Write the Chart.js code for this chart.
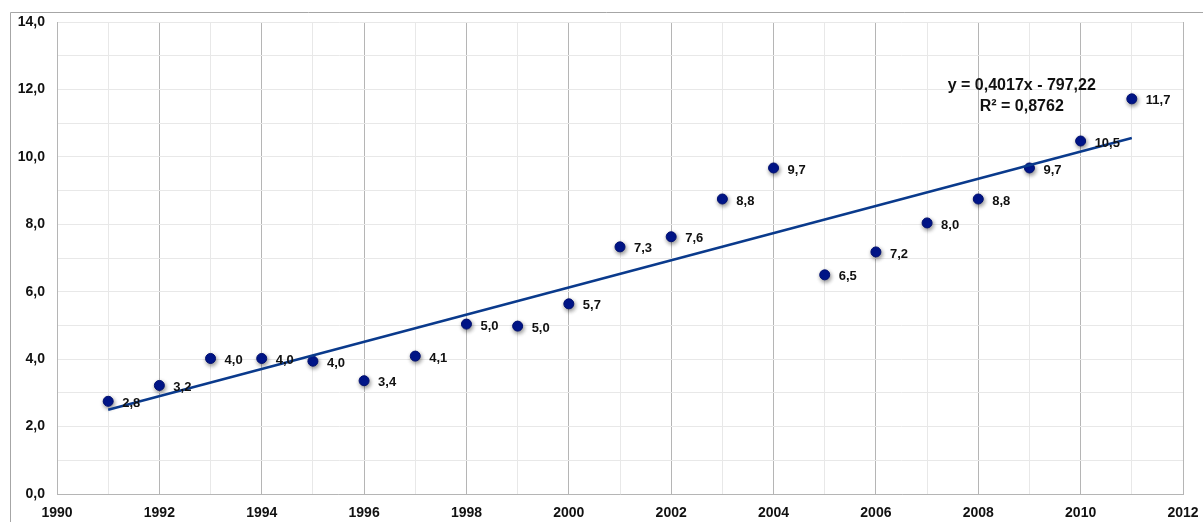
<!DOCTYPE html>
<html>
<head>
<meta charset="utf-8">
<script src="https://cdn.jsdelivr.net/npm/chart.js@4"></script>
<style>
html,body{margin:0;padding:0;background:#fff;}
#wrap{width:1203px;height:522px;position:relative;}
</style>
</head>
<body>
<div id="wrap"><canvas id="c" width="1203" height="522"></canvas></div>
<script>
const years = [1991,1992,1993,1994,1995,1996,1997,1998,1999,2000,2001,2002,2003,2004,2005,2006,2007,2008,2009,2010,2011];
const values = [2.75,3.22,4.02,4.02,3.94,3.36,4.09,5.04,4.98,5.64,7.33,7.63,8.75,9.67,6.5,7.18,8.04,8.75,9.67,10.47,11.72];
const valueLabels = ["2,8","3,2","4,0","4,0","4,0","3,4","4,1","5,0","5,0","5,7","7,3","7,6","8,8","9,7","6,5","7,2","8,0","8,8","9,7","10,5","11,7"];
const trendX = [1991, 2011];
const trendY = [2.5, 10.56];
const equationLines = ["y = 0,4017x - 797,22", "R² = 0,8762"];
const xTickLabels = ["1990","1992","1994","1996","1998","2000","2002","2004","2006","2008","2010","2012"];
const yTickLabels = ["0,0","2,0","4,0","6,0","8,0","10,0","12,0","14,0"];

const pts = years.map((y,i)=>({x:y,y:values[i]}));
const trend = trendX.map((x,i)=>({x:x,y:trendY[i]}));

const decor = {
  id:'decor',
  beforeDraw(chart){
    const ctx = chart.ctx;
    ctx.save();
    ctx.strokeStyle = '#a6a6a6';
    ctx.lineWidth = 1;
    ctx.beginPath();
    ctx.moveTo(10.5, 522);
    ctx.lineTo(10.5, 12.5);
    ctx.lineTo(1203, 12.5);
    ctx.stroke();
    ctx.restore();
  },
  beforeDatasetDraw(chart, args){
    if (args.index === 1) {
      const ctx = chart.ctx;
      ctx.save();
      ctx.shadowColor = 'rgba(0,0,0,0.45)';
      ctx.shadowBlur = 4;
      ctx.shadowOffsetX = 1;
      ctx.shadowOffsetY = 2;
    }
  },
  afterDatasetDraw(chart, args){
    if (args.index === 1) chart.ctx.restore();
  },
  afterDatasetsDraw(chart){
    const ctx = chart.ctx;
    const meta = chart.getDatasetMeta(1);
    ctx.save();
    ctx.fillStyle = '#111';
    ctx.font = 'bold 13px "Liberation Sans", Arial, sans-serif';
    ctx.textBaseline = 'middle';
    ctx.textAlign = 'left';
    meta.data.forEach((el,i)=>{
      ctx.fillText(valueLabels[i], el.x + 14, el.y + 2);
    });
    const xs = chart.scales.x, ys = chart.scales.y;
    ctx.font = 'bold 16px "Liberation Sans", Arial, sans-serif';
    ctx.textAlign = 'center';
    const cx = xs.getPixelForValue(2008.85);
    const cy = ys.getPixelForValue(12.1);
    ctx.fillText(equationLines[0], cx, cy);
    ctx.fillText(equationLines[1], cx, cy + 21);
    ctx.restore();
  }
};

new Chart(document.getElementById('c'), {
  type:'scatter',
  data:{
    datasets:[
      {
        type:'line',
        data:trend,
        borderColor:'#0a3a8c',
        borderWidth:2.5,
        pointRadius:0,
        fill:false,
        showLine:true
      },
      {
        data:pts,
        backgroundColor:'#00168f',
        borderColor:'#001070',
        borderWidth:1,
        pointRadius:5,
        pointHoverRadius:5
      }
    ]
  },
  options:{
    responsive:false,
    animation:false,
    events:[],
    layout:{padding:{top:22,right:20,left:0,bottom:0}},
    plugins:{legend:{display:false},tooltip:{enabled:false}},
    scales:{
      x:{
        type:'linear',
        min:1990,max:2012,
        afterFit(s){ s.height = 28; s.paddingRight = 0; s.paddingLeft = 0; },
        ticks:{
          stepSize:1,
          autoSkip:false,
          maxRotation:0,
          padding:11,
          color:'#111',
          font:{family:'"Liberation Sans", Arial, sans-serif',size:14,weight:'bold'},
          callback(v){ const i = xTickLabels.indexOf(String(v)); return i>=0 ? xTickLabels[i] : ''; }
        },
        grid:{
          color(c){ return (c.tick && c.tick.value % 2 === 0) ? '#b5b5b5' : '#e8e8e8'; },
          drawTicks:false,
          lineWidth:1
        },
        border:{color:'#b5b5b5'}
      },
      y:{
        min:0,max:14,
        afterFit(s){ s.width = 57; s.paddingTop = 0; s.paddingBottom = 0; },
        ticks:{
          stepSize:1,
          autoSkip:false,
          padding:12,
          color:'#111',
          font:{family:'"Liberation Sans", Arial, sans-serif',size:14,weight:'bold'},
          callback(v){ return (v % 2 === 0) ? yTickLabels[v/2] : ''; }
        },
        grid:{
          color:'#e8e8e8',
          drawTicks:false
        },
        border:{color:'#b5b5b5'}
      }
    }
  },
  plugins:[decor]
});
</script>
</body>
</html>
